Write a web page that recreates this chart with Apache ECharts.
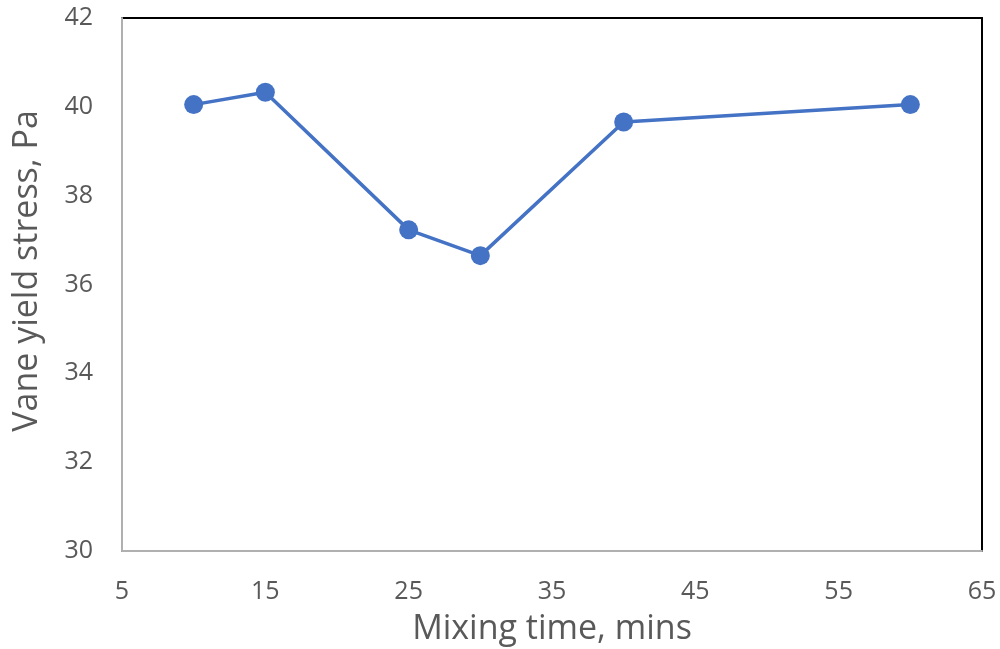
<!DOCTYPE html>
<html>
<head>
<meta charset="utf-8">
<script src="https://cdn.jsdelivr.net/npm/echarts@6/dist/echarts.min.js"></script>
<style>
  html, body { margin: 0; padding: 0; background: #fff; }
  #chart { width: 1000px; height: 649px; }
</style>
</head>
<body>
<div id="chart"></div>
<script>
// Mixing time (minutes) and measured vane yield stress (Pa)
const mixingTime = [10, 15, 25, 30, 40, 60];
const yieldStress = [40.05, 40.33, 37.23, 36.65, 39.66, 40.05];

const xTitle = 'Mixing time, mins';
const yTitle = 'Vane yield stress, Pa';

const font = "'Open Sans', 'Noto Sans', sans-serif";
const textGray = '#595959';

const chart = echarts.init(document.getElementById('chart'), null, { renderer: 'canvas' });

chart.setOption({
  animation: false,
  backgroundColor: '#ffffff',
  grid: {
    left: 122, right: 18, top: 18, bottom: 98,
    outerBoundsMode: 'none',
    containLabel: false,
    show: true, borderColor: '#000000', borderWidth: 2,
    backgroundColor: 'transparent'
  },
  // vertical axis title, rotated and placed beside the value labels
  graphic: [{
    type: 'text',
    x: 27, y: 271,
    rotation: Math.PI / 2,
    style: {
      text: yTitle,
      fontFamily: font, fontSize: 34, fill: textGray,
      align: 'center', verticalAlign: 'middle'
    }
  }],
  xAxis: {
    type: 'value',
    min: 5, max: 65, interval: 10,
    name: xTitle,
    nameLocation: 'middle',
    nameGap: 61,
    nameTextStyle: { fontFamily: font, fontSize: 34, color: textGray },
    axisLine: { show: true, lineStyle: { color: '#b0b0b0', width: 2 } },
    axisTick: { show: false },
    splitLine: { show: false },
    axisLabel: { fontFamily: font, fontSize: 25, color: textGray, margin: 28 }
  },
  yAxis: {
    type: 'value',
    min: 30, max: 42, interval: 2,
    axisLine: { show: true, lineStyle: { color: '#b0b0b0', width: 2 } },
    axisTick: { show: false },
    splitLine: { show: false },
    axisLabel: { fontFamily: font, fontSize: 25, color: textGray, margin: 29 }
  },
  series: [{
    type: 'line',
    data: mixingTime.map((t, i) => [t, yieldStress[i]]),
    symbol: 'circle',
    symbolSize: 19,
    lineStyle: { color: '#4472C4', width: 3.5 },
    itemStyle: { color: '#4472C4' }
  }]
});
</script>
</body>
</html>
